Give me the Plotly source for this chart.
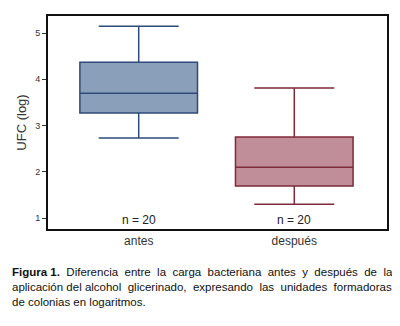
import plotly.graph_objects as go

categories = ["antes", "después"]
q1 = [3.27, 1.69]
median = [3.70, 2.10]
q3 = [4.37, 2.75]
lower = [2.73, 1.30]
upper = [5.15, 3.81]
n_labels = ["n = 20", "n = 20"]
fills = ["#8aa0ba", "#bf8e98"]
lines = ["#2e4a78", "#7e2a3a"]
yticks = [1, 2, 3, 4, 5]

fig = go.Figure()
for i, c in enumerate(categories):
    fig.add_trace(go.Box(
        x=[c], q1=[q1[i]], median=[median[i]], q3=[q3[i]],
        lowerfence=[lower[i]], upperfence=[upper[i]],
        fillcolor=fills[i], line=dict(color=lines[i], width=1.5),
        width=0.756, whiskerwidth=0.68, boxpoints=False, showlegend=False,
        hoverinfo="skip",
    ))

for i, c in enumerate(categories):
    fig.add_annotation(x=c, y=0.96, xref="x", yref="y", text=n_labels[i],
                       showarrow=False, font=dict(size=12, color="#222"),
                       yanchor="middle")

font = "Liberation Sans, Arial, sans-serif"
caption = [
    "<b>Figura 1.</b>  Diferencia  entre  la  carga  bacteriana  antes  y  después  de  la",
    "aplicación del alcohol  glicerinado,  expresando  las  unidades  formadoras",
    "de colonias en logaritmos.",
]
cap_y = [272, 287, 302]
for t, yp in zip(caption, cap_y):
    fig.add_annotation(x=(10 - 48) / 339, y=(229 - yp) / 213, xref="paper", yref="paper",
                       text=t, showarrow=False, xanchor="left", yanchor="middle",
                       font=dict(size=11.5, color="#111", family=font))

fig.update_layout(
    width=384, height=300,
    margin=dict(l=40, r=5, t=8, b=79),
    paper_bgcolor="white", plot_bgcolor="white",
    font=dict(family=font, color="#222"),
    xaxis=dict(range=[-0.583, 1.596], showline=True, mirror=True, linecolor="#111",
               linewidth=2, ticks="", tickfont=dict(size=12, color="#333"),
               showgrid=False, zeroline=False, ticklabelstandoff=0, automargin=False),
    yaxis=dict(range=[0.762, 5.37], tickvals=yticks, showline=True, mirror=True,
               linecolor="#111", linewidth=2, ticks="outside", ticklen=4,
               tickcolor="#333", tickfont=dict(size=9, color="#333"),
               showgrid=False, zeroline=False, automargin=False,
               title=dict(text="UFC (log)", font=dict(size=13, color="#333"), standoff=6)),
)
fig.write_html("out.html")
